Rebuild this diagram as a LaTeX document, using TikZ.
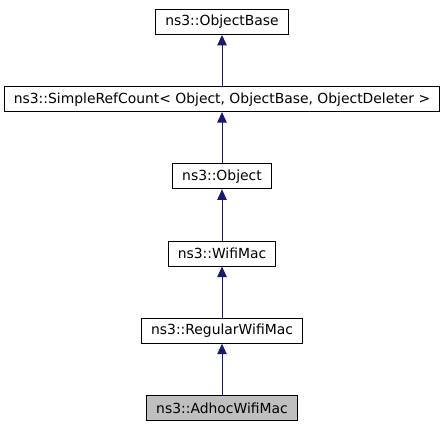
\documentclass[tikz,border=0pt]{standalone}
\usepackage{fontspec}
\setmainfont{DejaVu Sans}
\usepackage{tikz}
\usetikzlibrary{arrows.meta, positioning}
\definecolor{midnightblue}{RGB}{25,25,112}
\definecolor{selgray}{RGB}{191,191,191}

\begin{document}
\begin{tikzpicture}[
    x=1pt, y=1pt,
    node distance=51.3pt,
    cls/.style={
        rectangle,
        draw=black, line width=0.9pt,
        fill=white,
        font=\fontsize{13.9}{16}\selectfont,
        minimum height=25pt,
        inner xsep=9.5pt
    },
    line/.style={midnightblue, line width=0.9pt, -{Triangle[width=9.5pt, length=10.5pt]}}
]
\useasboundingbox (0,0) rectangle (445,-427);

\node[cls] (objbase) at (222,-22) {ns3::ObjectBase};

\node[cls, below=of objbase] (refcount)
    {ns3::SimpleRefCount< Object, ObjectBase, ObjectDeleter >};

\node[cls, below=of refcount] (object) {ns3::Object};

\node[cls, below=of object] (wifimac) {ns3::WifiMac};

\node[cls, below=of wifimac] (regular) {ns3::RegularWifiMac};

\node[cls, fill=selgray, below=of regular] (adhoc) {ns3::AdhocWifiMac};

% Inheritance arrows
\draw[line] (refcount) -- (objbase);
\draw[line] (object) -- (refcount);
\draw[line] (wifimac) -- (object);
\draw[line] (regular) -- (wifimac);
\draw[line] (adhoc) -- (regular);

\end{tikzpicture}
\end{document}
